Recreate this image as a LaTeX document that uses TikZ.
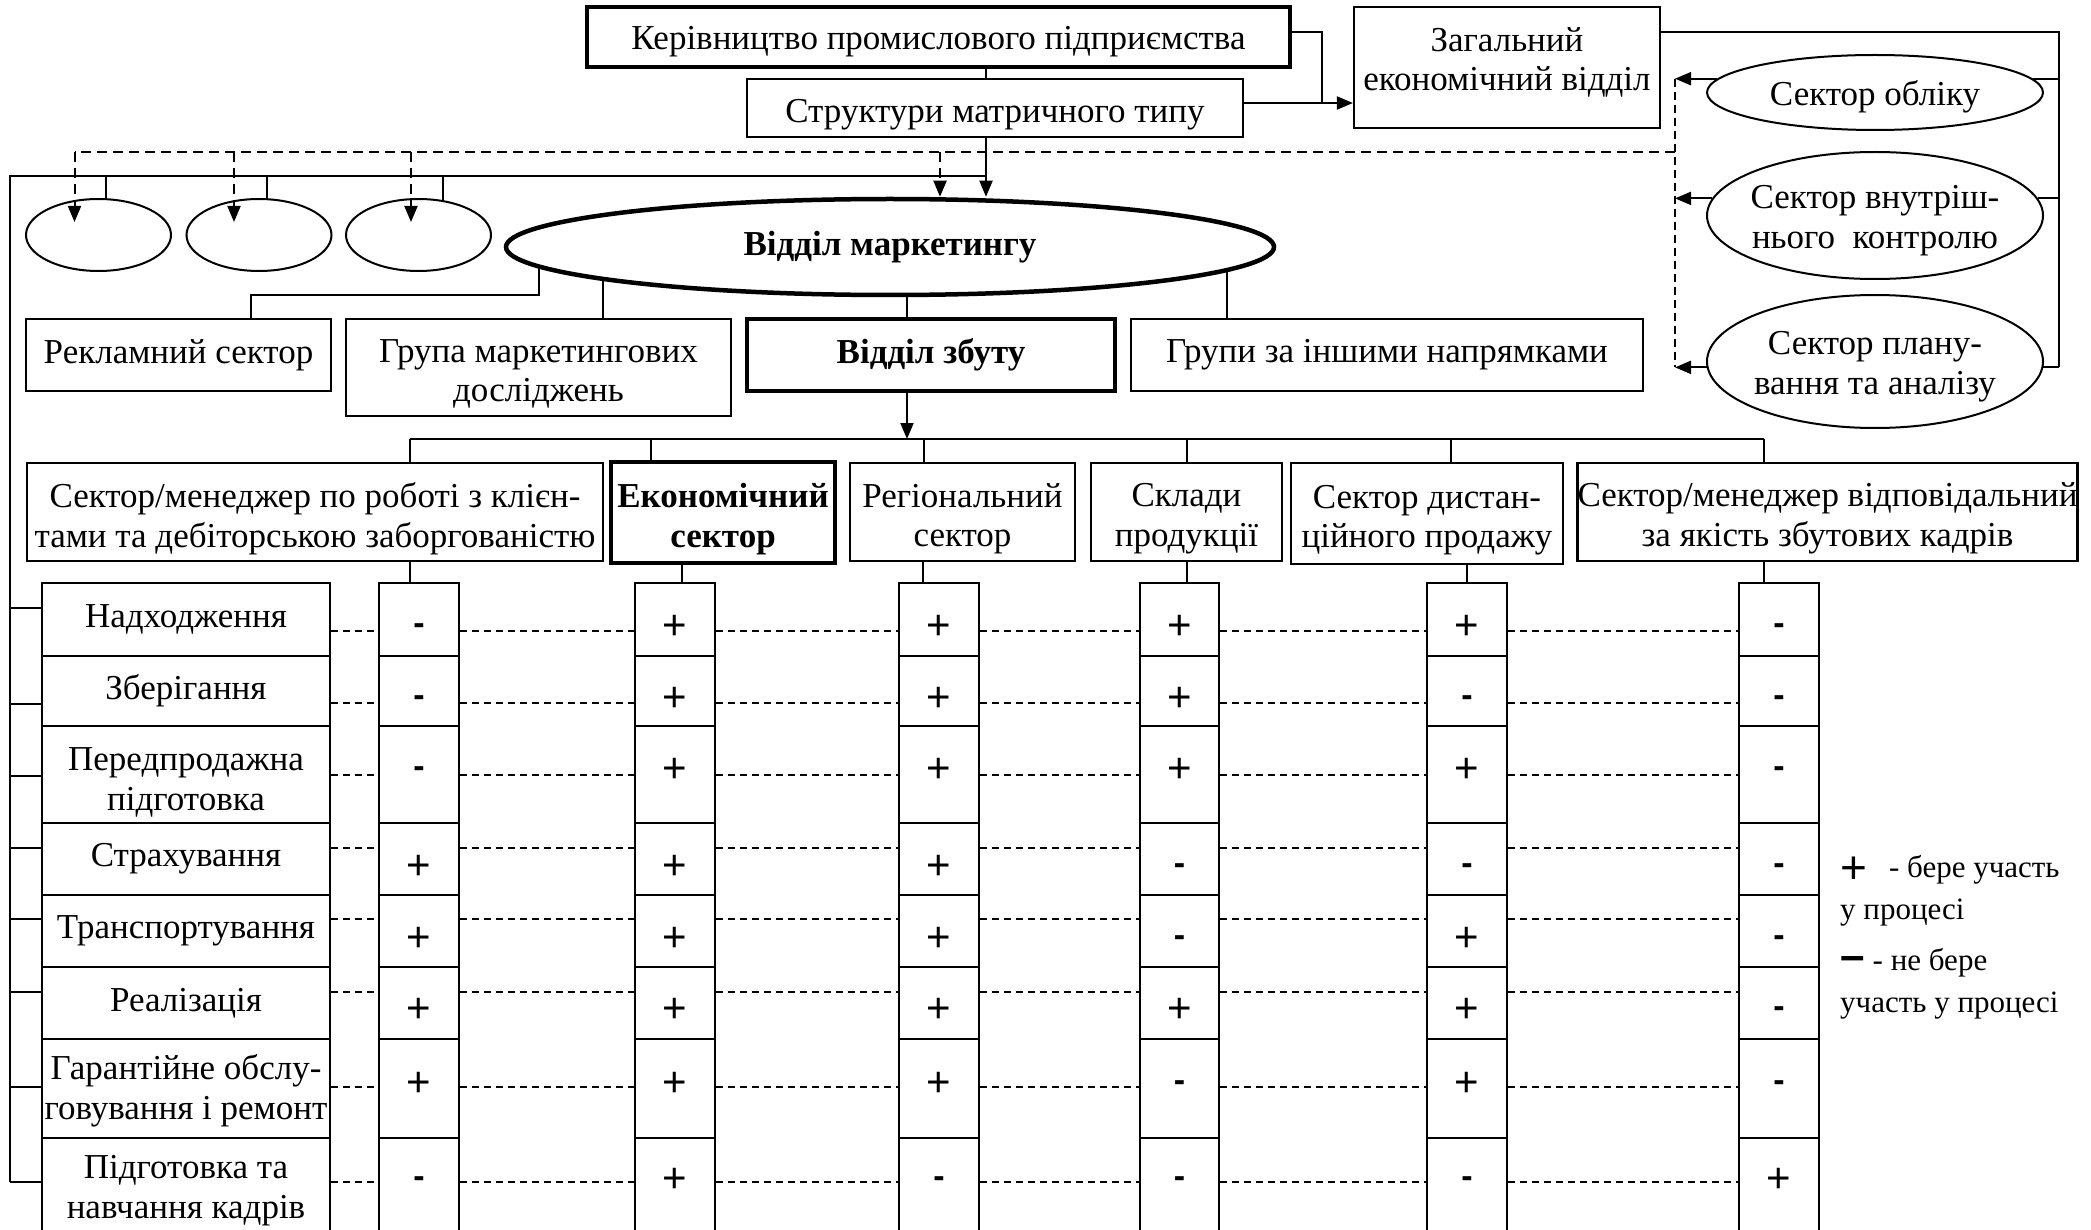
\documentclass[tikz,border=0pt]{standalone}
\usepackage{fontspec}
\setmainfont{Liberation Serif}
\newfontfamily\SgnFont{Liberation Sans}
\usetikzlibrary{shapes.geometric,arrows.meta,backgrounds}
\newcommand\SgnP{\raisebox{-14.5pt}{\fontsize{42}{42}\selectfont\SgnFont +}}
\newcommand\SgnM{\raisebox{-9pt}{\fontsize{34}{34}\selectfont\SgnFont\bfseries -}}
\newcommand\SgnNode[4]{\node[anchor=base] (#1) at (#2,#3) {\csname Sgn#4\endcsname};}
% push text down (#1 = twice the shift) / up (#1 = twice the shift)
\newcommand\TxtDn[2]{\raisebox{0pt}[\dimexpr\height+#1\relax]{#2}}
\newcommand\TxtUp[2]{\raisebox{0pt}[\height][\dimexpr\depth+#1\relax]{#2}}
\begin{document}
\begin{tikzpicture}[x=1pt,y=-1pt,
  every node/.style={font=\fontsize{35}{39.5}\selectfont, inner sep=0pt, align=center},
  box/.style={draw, line width=2.2pt, fill=white, rectangle},
  thickbox/.style={draw, line width=4.5pt, fill=white, rectangle},
  ell/.style={draw, ellipse, line width=2pt, fill=white, inner sep=-20pt},
  ln/.style={line width=2pt},
  dsh/.style={line width=2pt, dash pattern=on 10pt off 6pt},
  vdsh/.style={line width=1.6pt, dash pattern=on 8pt off 5pt},
  tdsh/.style={line width=2pt, dash pattern=on 7pt off 5pt},
  arr/.style={-{Triangle[length=16pt,width=13pt]}},
  leg/.style={font=\fontsize{31}{36}\selectfont, anchor=base west},
]
\useasboundingbox (0,0) rectangle (2091,1230);

% ---------- top nodes
\node[thickbox, minimum width=703pt, minimum height=60pt] (ker) at (938.5,37) {\TxtDn{10pt}{Керівництво промислового підприємства}};
\node[box, minimum width=496pt, minimum height=58pt] (str) at (995,108) {\TxtDn{13pt}{Структури матричного типу}};
\node[box, minimum width=306pt, minimum height=121pt] (zag) at (1507,67.5) {Загальний\\\TxtUp{10pt}{економічний відділ}};
\node[ell, minimum width=336pt, minimum height=75pt] (obl) at (1875,92.5) {\TxtDn{8pt}{Сектор обліку}};
\node[ell, minimum width=336pt, minimum height=127pt] (vnu) at (1875,215.5) {\TxtDn{10pt}{Сектор внутріш-}\\нього~~контролю};
\node[ell, minimum width=336pt, minimum height=133pt] (pla) at (1875,361.5) {\TxtDn{10pt}{Сектор плану-}\\вання та аналізу};

\node[ell, minimum width=145pt, minimum height=72pt] (c1) at (98.5,235) {};
\node[ell, minimum width=145pt, minimum height=72pt] (c2) at (259,235) {};
\node[ell, minimum width=145pt, minimum height=72pt] (c3) at (418.5,235) {};
\node[ell, line width=4.5pt, minimum width=768pt, minimum height=96pt] (mar) at (890,247) {\textbf{Відділ маркетингу}};

% ---------- second level
\node[box, minimum width=305pt, minimum height=72pt] (rek) at (178.5,355) {Рекламний сектор};
\node[box, minimum width=385pt, minimum height=97pt] (grm) at (538.5,367.5) {\TxtDn{13pt}{Група маркетингових}\\досліджень};
\node[thickbox, minimum width=368pt, minimum height=72pt] (zbu) at (931,355) {\textbf{Відділ збуту}};
\node[box, minimum width=512pt, minimum height=72pt] (ins) at (1387,355) {Групи за іншими напрямками};

% ---------- third level
\node[box, minimum width=576pt, minimum height=98pt] (h1) at (315,512) {\TxtDn{13pt}{Сектор/менеджер по роботі з клієн-}\\тами та дебіторською заборгованістю};
\node[thickbox, line width=4pt, minimum width=224pt, minimum height=101pt] (h2) at (723,512.5) {\TxtDn{13pt}{\textbf{Економічний}}\\\textbf{сектор}};
\node[box, minimum width=225pt, minimum height=98pt] (h3) at (962.5,512) {\TxtDn{13pt}{Регіональний}\\сектор};
\node[box, minimum width=191pt, minimum height=98pt] (h4) at (1186.5,512) {\TxtDn{13pt}{Склади}\\продукції};
\node[box, minimum width=272pt, minimum height=101pt] (h5) at (1427,513.5) {\TxtDn{13pt}{Сектор дистан-}\\ційного продажу};
\node[box, minimum width=497pt, minimum height=98pt] (h6) at (1827.5,512) {\TxtDn{13pt}{Сектор/менеджер відповідальний}\\за якість збутових кадрів};

% ---------- table
\foreach \r/\ya/\yb/\dy/\ty/\lab in {
  1/583/656/631/608/{Надходження},
  2/656/726/703/704/{Зберігання},
  3/726/823/775/776/{\TxtDn{16pt}{Передпродажна}\\підготовка},
  4/823/895/848/848/{Страхування},
  5/895/967/919/919/{Транспортування},
  6/967/1039/992/992/{Реалізація},
  7/1039/1138/1087/1087/{\TxtDn{4pt}{Гарантійне обслу-}\\говування і ремонт},
  8/1138/1237/1182/1182/{\TxtDn{6pt}{Підготовка та}\\навчання кадрів}} {
  \node[box, minimum width=288pt, minimum height={(\yb-\ya)*1pt}] (p\r) at (186,{(\ya+\yb)/2}) {\lab};
  \foreach \c/\cx/\cw in {1/419/80,2/675/80,3/939/80,4/1179.5/79,5/1467/80,6/1779/80} {
    \node[box, minimum width={\cw*1pt}, minimum height={(\yb-\ya)*1pt}] (s\r-\c) at (\cx,{(\ya+\yb)/2}) {};
  }
  \coordinate (dl\r) at (0,\dy);
  \coordinate (tk\r) at (0,\ty);
}

% signs
\foreach \r/\sy/\sa/\sb/\sc/\sd/\se/\sf in {
  1/625/M/P/P/P/P/M,
  2/697/M/P/P/P/M/M,
  3/768/M/P/P/P/P/M,
  4/865/P/P/P/M/M/M,
  5/937/P/P/P/M/P/M,
  6/1008/P/P/P/P/P/M,
  7/1082/P/P/P/M/P/M,
  8/1178/M/P/M/M/M/P} {
  \SgnNode{g\r-1}{419}{\sy}{\sa}
  \SgnNode{g\r-2}{675}{\sy}{\sb}
  \SgnNode{g\r-3}{939}{\sy}{\sc}
  \SgnNode{g\r-4}{1179.5}{\sy}{\sd}
  \SgnNode{g\r-5}{1467}{\sy}{\se}
  \SgnNode{g\r-6}{1779}{\sy}{\sf}
}

% legend
\node[leg] (lg1) at (1840,877) {\raisebox{-6pt}{\fontsize{46}{46}\selectfont\SgnFont +}\hspace{22pt}- бере участь};
\node[leg] (lg2) at (1840,919) {у процесі};
\node[leg] (lg3) at (1840,970) {{\fontsize{44}{44}\selectfont\SgnFont\bfseries –}\hspace{8pt}- не бере};
\node[leg] (lg4) at (1840,1012) {участь у процесі};

% ---------- coordinates
\coordinate (J) at (986,176);
\coordinate (L) at (10,176);
\coordinate (K) at (1322,32);
\coordinate (A1) at (1322,103);
\coordinate (R) at (2059,32);
\coordinate (D) at (1675,152);
\coordinate (dd1) at (74.5,152);
\coordinate (dd2) at (234,152);
\coordinate (dd3) at (411,152);
\coordinate (dd4) at (940,152);
\coordinate (e1) at (74.5,222);
\coordinate (e2) at (234,222);
\coordinate (e3) at (411,222);
\coordinate (k1) at (106,176);
\coordinate (k2) at (267,176);
\coordinate (k3) at (443,176);
\coordinate (m1) at (539,295);
\coordinate (m1b) at (251,295);
\coordinate (m2) at (603,319);
\coordinate (m3) at (907,319);
\coordinate (m4) at (1227,319);
\foreach \i/\xa/\xb in {1/410/410,2/651/682,3/924/923,4/1187/1187,5/1451/1467,6/1764/1764} {
  \coordinate (ua\i) at (\xa,439);
  \coordinate (ub\i) at (\xb,572);
}

% ---------- connectors behind the nodes
\begin{scope}[on background layer]
  \fill[white] (0,0) rectangle (2091,1230);
  \draw[ln] (ker.south -| J) -- (str.north -| J);
  \draw[ln] (ker.east |- K) -- (K) -- (A1);
  \draw[ln] (zag.east |- R) -- (R) -- (R |- pla.-2);
  \draw[ln] (obl.5) -- (obl.5 -| R);
  \draw[ln] (vnu.6) -- (vnu.6 -| R);
  \draw[ln] (pla.-2) -- (pla.-2 -| R);
  \draw[ln] (J) -- (L) -- (L |- tk8);
  \draw[ln] (k1) -- (k1 |- c1.center);
  \draw[ln] (k2) -- (k2 |- c2.center);
  \draw[ln] (k3) -- (k3 |- c3.center);
  \draw[ln] (m1 |- mar.center) -- (m1) -- (m1b) -- (m1b |- rek.north);
  \draw[ln] (m2 |- mar.center) -- (m2 |- grm.north);
  \draw[ln] (m3 |- mar.center) -- (m3 |- zbu.north);
  \draw[ln] (m4 |- mar.center) -- (m4 |- ins.north);
  \draw[ln] (ua1) -- (ua6);
  \foreach \i in {1,...,6} {
    \draw[ln] (ua\i) -- (ua\i |- h\i.north);
    \draw[ln] (ub\i |- h\i.south) -- (ub\i |- s1-\i.north);
  }
  \draw[dsh] (D) -- (dd1);
  \draw[vdsh] (D |- obl.175) -- (D |- pla.182);
  \foreach \r in {1,...,8} {
    \draw[tdsh] (p\r.east |- dl\r) -- (s\r-1.west |- dl\r);
    \foreach \c [evaluate=\c as \nx using int(\c+1)] in {1,...,5} {
      \draw[tdsh] (s\r-\c.east |- dl\r) -- (s\r-\nx.west |- dl\r);
    }
    \draw[ln] (L |- tk\r) -- (p\r.west |- tk\r);
  }
\end{scope}

% ---------- arrows
\draw[ln,arr] (str.south -| J) -- (mar.north -| J);
\draw[ln,arr] (str.east |- A1) -- (zag.west |- A1);
\draw[ln,arr] (obl.175) -- (obl.175 -| D);
\draw[ln,arr] (vnu.174) -- (vnu.174 -| D);
\draw[ln,arr] (pla.182) -- (pla.182 -| D);
\draw[dsh,arr] (dd1) -- (e1);
\draw[dsh,arr] (dd2) -- (e2);
\draw[dsh,arr] (dd3) -- (e3);
\draw[dsh,arr] (dd4) -- (dd4 |- mar.north);
\draw[ln,arr] (zbu.south -| m3) -- (m3 |- ua1);
\end{tikzpicture}
\end{document}
